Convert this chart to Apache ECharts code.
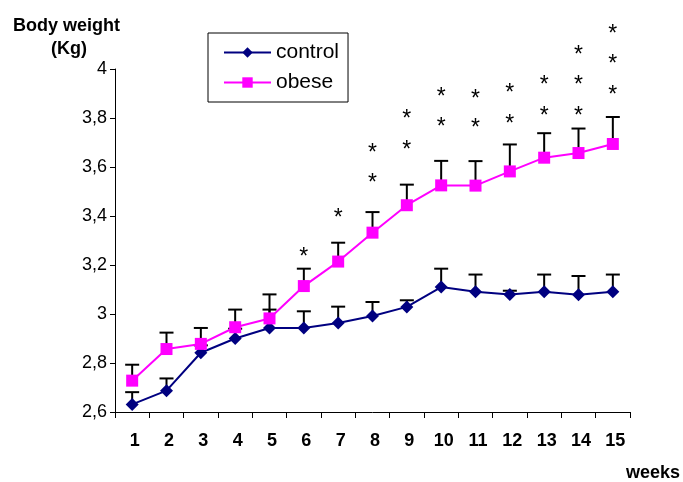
<!DOCTYPE html>
<html>
<head>
<meta charset="utf-8">
<script src="https://cdn.jsdelivr.net/npm/echarts@6/dist/echarts.min.js"></script>
<style>
html,body{margin:0;padding:0;background:#fff;}
#chart{width:683px;height:482px;}
</style>
</head>
<body>
<div id="chart"></div>
<script>
// ---- data ----
var weeks = ['1','2','3','4','5','6','7','8','9','10','11','12','13','14','15'];
var controlMean = [2.631, 2.687, 2.842, 2.900, 2.943, 2.943, 2.963, 2.992, 3.029, 3.110, 3.091, 3.080, 3.091, 3.079, 3.091];
var controlSem  = [0.050, 0.050, 0.030, 0.040, 0.075, 0.068, 0.067, 0.057, 0.027, 0.075, 0.070, 0.015, 0.070, 0.076, 0.070];
var obeseMean   = [2.728, 2.857, 2.878, 2.946, 2.982, 3.114, 3.214, 3.332, 3.444, 3.525, 3.524, 3.582, 3.638, 3.657, 3.694];
var obeseSem    = [0.065, 0.067, 0.065, 0.072, 0.098, 0.071, 0.077, 0.084, 0.084, 0.100, 0.100, 0.110, 0.100, 0.100, 0.110];
// significance asterisks: [week label, height in kg]
var stars = [
  ['6',3.244],
  ['7',3.402],
  ['8',3.543],['8',3.665],
  ['9',3.679],['9',3.804],
  ['10',3.773],['10',3.897],
  ['11',3.767],['11',3.889],
  ['12',3.784],['12',3.910],
  ['13',3.818],['13',3.944],
  ['14',3.818],['14',3.944],['14',4.067],
  ['15',3.904],['15',4.029],['15',4.151]
];
var yTicks = {min: 2.6, max: 4, interval: 0.2};

var FONT = "'Liberation Sans', Arial, sans-serif";

function errData(mean, sem){
  return weeks.map(function(w, i){ return [i, mean[i], sem[i]]; });
}
function renderErr(params, api){
  var i = api.value(0), m = api.value(1), s = api.value(2);
  var p0 = api.coord([i, m]);
  var p1 = api.coord([i, m + s]);
  var style = {stroke: '#000', lineWidth: 2};
  return {
    type: 'group',
    children: [
      {type: 'line', shape: {x1: p0[0], y1: p0[1], x2: p1[0], y2: p1[1]}, style: style},
      {type: 'line', shape: {x1: p1[0]-7, y1: p1[1], x2: p1[0]+7, y2: p1[1]}, style: style}
    ]
  };
}

var chart = echarts.init(document.getElementById('chart'));
chart.setOption({
  animation: false,
  backgroundColor: '#fff',
  grid: {left: 115, right: 53, top: 69, bottom: 70, containLabel: false},
  legend: {
    orient: 'vertical',
    left: 208, top: 33,
    borderColor: '#000', borderWidth: 1,
    padding: [9, 9, 9, 15],
    itemWidth: 47, itemHeight: 13, itemGap: 9,
    textStyle: {fontFamily: FONT, fontSize: 21, color: '#000'},
    data: ['control', 'obese']
  },
  xAxis: {
    type: 'category',
    data: weeks,
    boundaryGap: true,
    axisLine: {lineStyle: {color: '#000', width: 1}},
    axisTick: {show: true, length: 6, inside: false, lineStyle: {color: '#000'}},
    axisLabel: {fontFamily: FONT, fontSize: 18, fontWeight: 'bold', color: '#000', margin: 20, padding: [0,0,0,5]},
    splitLine: {show: false}
  },
  yAxis: {
    type: 'value',
    min: yTicks.min, max: yTicks.max, interval: yTicks.interval,
    axisLine: {show: true, lineStyle: {color: '#000', width: 1}},
    axisTick: {show: true, length: 5, lineStyle: {color: '#000'}},
    axisLabel: {
      fontFamily: FONT, fontSize: 18, color: '#000', margin: 8,
      formatter: function(v){ return String(Math.round(v*10)/10).replace('.', ','); }
    },
    splitLine: {show: false}
  },
  series: [
    {
      name: 'controlErr', type: 'custom', renderItem: renderErr,
      data: errData(controlMean, controlSem), z: 1, clip: false, silent: true
    },
    {
      name: 'obeseErr', type: 'custom', renderItem: renderErr,
      data: errData(obeseMean, obeseSem), z: 1, clip: false, silent: true
    },
    {
      name: 'control', type: 'line', data: controlMean, z: 3,
      symbol: 'diamond', symbolSize: [13, 13],
      itemStyle: {color: '#000080'},
      lineStyle: {color: '#000080', width: 2}
    },
    {
      name: 'obese', type: 'line', data: obeseMean, z: 4,
      symbol: 'rect', symbolSize: 12,
      itemStyle: {color: '#FF00FF'},
      lineStyle: {color: '#FF00FF', width: 2}
    },
    {
      name: 'stars', type: 'custom', z: 5, clip: false, silent: true,
      data: stars,
      renderItem: function(params, api){
        var p = api.coord([api.value(0), api.value(1)]);
        return {
          type: 'text',
          x: p[0], y: p[1] + 3,
          style: {text: '*', fill: '#000', font: '23px ' + FONT, align: 'center', verticalAlign: 'middle'}
        };
      }
    }
  ],
  graphic: [
    {type: 'text', left: 13, top: 17, style: {text: 'Body weight', font: 'bold 18px ' + FONT, fill: '#000'}},
    {type: 'text', left: 51, top: 40, style: {text: '(Kg)', font: 'bold 18px ' + FONT, fill: '#000'}},
    {type: 'text', right: 3, top: 464, style: {text: 'weeks', font: 'bold 18px ' + FONT, fill: '#000'}}
  ]
});
</script>
</body>
</html>
